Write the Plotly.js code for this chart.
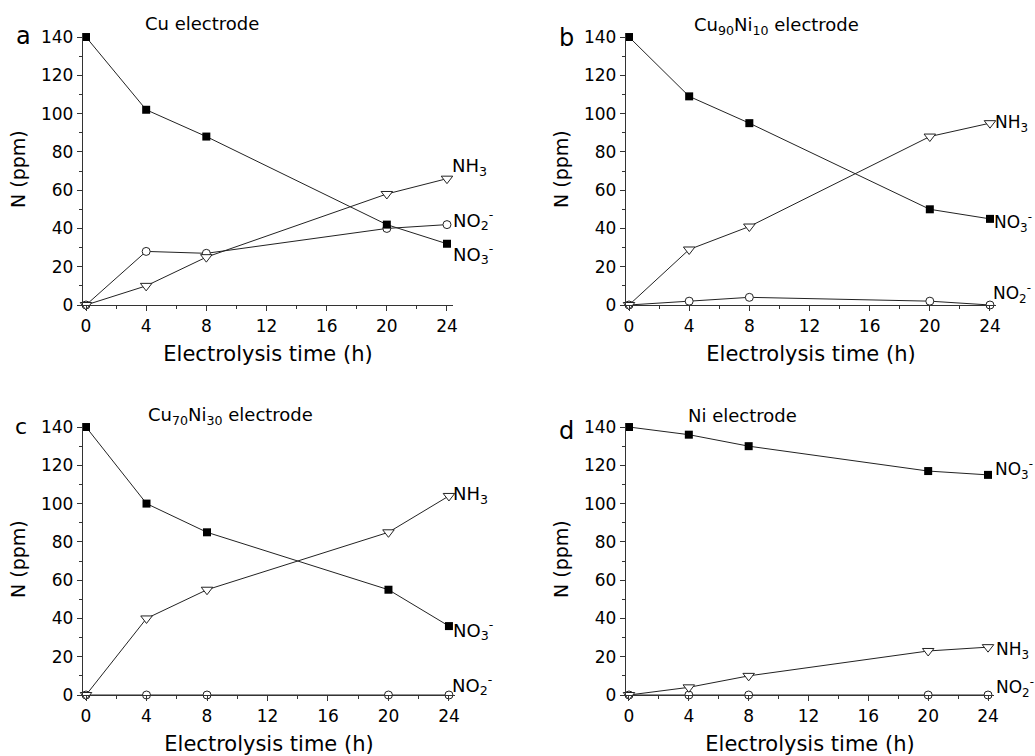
<!DOCTYPE html>
<html>
<head>
<meta charset="utf-8">
<script src="https://cdn.plot.ly/plotly-3.0.1.min.js"></script>
<style>html,body{margin:0;padding:0;background:#fff;}#chart{width:1035px;height:756px;}</style>
</head>
<body>
<div id="chart"></div>
<script>
// Data
const times = [0, 4, 8, 20, 24];
const xTickVals = [0, 4, 8, 12, 16, 20, 24];
const yTickVals = [0, 20, 40, 60, 80, 100, 120, 140];

const aNO3 = [140, 102, 88, 42, 32];
const aNH3 = [0, 10, 25, 58, 66];
const aNO2 = [0, 28, 27, 40, 42];

const bNO3 = [140, 109, 95, 50, 45];
const bNH3 = [0, 29, 41, 88, 95];
const bNO2 = [0, 2, 4, 2, 0];

const cNO3 = [140, 100, 85, 55, 36];
const cNH3 = [0, 40, 55, 85, 104];
const cNO2 = [0, 0, 0, 0, 0];

const dNO3 = [140, 136, 130, 117, 115];
const dNH3 = [0, 4, 10, 23, 25];
const dNO2 = [0, 0, 0, 0, 0];

const panelLetters = ['a', 'b', 'c', 'd'];
const panelTitles = ['Cu electrode', 'Cu<sub>90</sub>Ni<sub>10</sub> electrode', 'Cu<sub>70</sub>Ni<sub>30</sub> electrode', 'Ni electrode'];
const xTitle = 'Electrolysis time (h)';
const yTitle = 'N (ppm)';
const lblNO3 = 'NO<sub>3</sub><sup>-</sup>';
const lblNO2 = 'NO<sub>2</sub><sup>-</sup>';
const lblNH3 = 'NH<sub>3</sub>';

const W = 1035, H = 756;
const px = v => v / W;
const py = v => 1 - v / H;
const FONT = 'DejaVu Sans, Arial, sans-serif';
const LINE = '#222';

const panels = [
  {no3: aNO3, nh3: aNH3, no2: aNO2, xd: [83, 453], yd: [305, 33.2]},
  {no3: bNO3, nh3: bNH3, no2: bNO2, xd: [626, 996], yd: [305, 33.2]},
  {no3: cNO3, nh3: cNH3, no2: cNO2, xd: [83, 455], yd: [695, 423.2]},
  {no3: dNO3, nh3: dNH3, no2: dNO2, xd: [626, 994], yd: [695, 423.2]}
];

const data = [];
const layout = {
  width: W, height: H,
  margin: {l: 0, r: 0, t: 0, b: 0},
  paper_bgcolor: '#fff', plot_bgcolor: '#fff',
  showlegend: false,
  font: {family: FONT, color: '#000'},
  annotations: []
};

panels.forEach((p, i) => {
  const n = i === 0 ? '' : String(i + 1);
  const xa = 'x' + n, ya = 'y' + n;
  const base = {x: times, xaxis: xa, yaxis: ya, mode: 'lines+markers', cliponaxis: false,
    line: {color: LINE, width: 1}, hoverinfo: 'skip'};
  data.push(Object.assign({}, base, {y: p.no2, marker: {symbol: 'circle', size: 8, color: '#fff', line: {color: LINE, width: 1}}}));
  data.push(Object.assign({}, base, {y: p.nh3, marker: {symbol: 'triangle-down', size: 10, color: '#fff', line: {color: LINE, width: 1}}}));
  data.push(Object.assign({}, base, {y: p.no3, marker: {symbol: 'square', size: 8, color: '#000', line: {color: '#000', width: 0}}}));

  layout['xaxis' + n] = {
    domain: [px(p.xd[0]), px(p.xd[1])], anchor: ya, range: [-0.2, 24.4],
    tickvals: xTickVals, ticks: 'outside', ticklen: 5, tickwidth: 1, tickcolor: '#333',
    minor: {dtick: 2, tick0: 0, ticks: 'outside', ticklen: 3, tickcolor: '#333'},
    showline: true, linecolor: '#333', linewidth: 1.2, showgrid: false, zeroline: false,
    tickfont: {size: 17, family: FONT, color: '#000'},
    title: {text: xTitle, font: {size: 21, family: FONT, color: '#000'}, standoff: 11}
  };
  layout['yaxis' + n] = {
    domain: [py(p.yd[0]), py(p.yd[1])], anchor: xa, range: [0, 142],
    tickvals: yTickVals, ticks: 'outside', ticklen: 5, tickwidth: 1, tickcolor: '#333',
    minor: {dtick: 10, tick0: 0, ticks: 'outside', ticklen: 3, tickcolor: '#333'},
    showline: true, linecolor: '#333', linewidth: 1.2, showgrid: false, zeroline: false,
    tickfont: {size: 17, family: FONT, color: '#000'},
    title: {text: yTitle, font: {size: 19, family: FONT, color: '#000'}, standoff: 10}
  };
});

function ann(text, x, y, size, xanchor) {
  layout.annotations.push({text: text, x: px(x), y: py(y), xref: 'paper', yref: 'paper',
    xanchor: xanchor || 'left', yanchor: 'middle', showarrow: false,
    font: {size: size, family: FONT, color: '#000'}});
}

// Panel letters
ann(panelLetters[0], 14, 36, 24);
ann(panelLetters[1], 557, 38, 24);
ann(panelLetters[2], 13, 427, 22);
ann(panelLetters[3], 557, 431, 24);

// Panel titles
ann(panelTitles[0], 202, 23, 18, 'center');
ann(panelTitles[1], 776, 26, 18, 'center');
ann(panelTitles[2], 230, 416, 18, 'center');
ann(panelTitles[3], 742, 415, 18, 'center');

// Series labels panel a
ann(lblNH3, 450, 167, 18);
ann(lblNO2, 451, 220, 18);
ann(lblNO3, 451, 254, 18);
// panel b
ann(lblNH3, 993, 124, 17);
ann(lblNO3, 992, 222, 17);
ann(lblNO2, 991, 294, 17);
// panel c
ann(lblNH3, 451, 495, 18);
ann(lblNO3, 451, 630, 18);
ann(lblNO2, 450, 685, 18);
// panel d
ann(lblNO3, 993, 469, 17);
ann(lblNH3, 994, 650, 17);
ann(lblNO2, 994, 687, 17);

Plotly.newPlot('chart', data, layout, {staticPlot: true});
</script>
</body>
</html>
